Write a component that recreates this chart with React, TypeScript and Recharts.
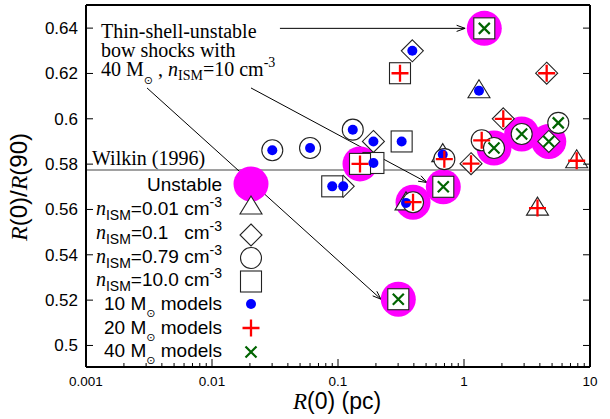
import React from 'react';
import { ScatterChart, Scatter, XAxis, YAxis, ReferenceLine } from 'recharts';

const SANS = '"Liberation Sans", Arial, sans-serif';
const SERIF = '"Liberation Serif", "Times New Roman", serif';

// R(0) in pc, R(0)/R(90), n_ISM in cm^-3, thin-shell unstable flag
const m10R0 = [0.0301, 0.060, 0.131, 0.191, 0.32, 0.191, 0.090, 0.110, 0.678, 1.315, 0.389, 0.3465];
const m10Ratio = [0.5861, 0.5871, 0.5952, 0.59, 0.59, 0.5805, 0.5702, 0.5702, 0.5842, 0.6124, 0.63, 0.5629];
const m10Nism = [0.79, 0.79, 0.79, 0.1, 10, 10, 10, 0.1, 0.01, 0.01, 0.1, 0.01];
const m10Unstable = [0, 0, 0, 0, 0, 0, 0, 0, 0, 0, 0, 0];

const m20R0 = [0.1495, 0.3105, 0.394, 0.698, 1.137, 1.382, 2.05, 4.53, 3.83, 7.84];
const m20Ratio = [0.5801, 0.6201, 0.5632, 0.5822, 0.5802, 0.5905, 0.6, 0.6201, 0.5606, 0.5815];
const m20Nism = [10, 10, 0.79, 0.79, 0.1, 0.79, 0.1, 0.1, 0.01, 0.01];
const m20Unstable = [1, 0, 1, 0, 0, 0, 0, 0, 0, 0];

const m40R0 = [1.449, 0.685, 0.301, 1.73, 2.87, 4.71, 5.6];
const m40Ratio = [0.6399, 0.57, 0.5204, 0.5871, 0.5933, 0.59, 0.5982];
const m40Nism = [10, 10, 10, 0.79, 0.79, 0.1, 0.79];
const m40Unstable = [1, 1, 1, 1, 1, 1, 0];

const wilkinRatio = 0.5774;

// annotation arrows (start -> tip), in data coordinates
const arrowFromR0 = [0.0346, 0.00305, 0.0204];
const arrowFromRatio = [0.6399, 0.6136, 0.6136];
const arrowToR0 = [1.02, 0.2195, 0.5085];
const arrowToRatio = [0.6399, 0.5204, 0.5719];

const xMajorTicks = [0.001, 0.01, 0.1, 1, 10];
const xTicks = [
  0.001, 0.002, 0.003, 0.004, 0.005, 0.006, 0.007, 0.008, 0.009,
  0.01, 0.02, 0.03, 0.04, 0.05, 0.06, 0.07, 0.08, 0.09,
  0.1, 0.2, 0.3, 0.4, 0.5, 0.6, 0.7, 0.8, 0.9,
  1, 2, 3, 4, 5, 6, 7, 8, 9, 10,
];
const yTicks = [0.5, 0.52, 0.54, 0.56, 0.58, 0.6, 0.62, 0.64];

const build = (r0: number[], ratio: number[], nism: number[], unstable: number[]) =>
  r0
    .map((x, i) => ({ x, y: ratio[i], n: nism[i], u: unstable[i] }))
    .sort((a, b) => a.n - b.n);

const m10 = build(m10R0, m10Ratio, m10Nism, m10Unstable);
const m20 = build(m20R0, m20Ratio, m20Nism, m20Unstable);
const m40 = build(m40R0, m40Ratio, m40Nism, m40Unstable);
const unstable = [...m10, ...m20, ...m40].filter((d) => d.u);
const arrows = arrowFromR0.map((x, i) => [
  { x, y: arrowFromRatio[i] },
  { x: arrowToR0[i], y: arrowToRatio[i] },
]);

const isMajor = (v: number) => xMajorTicks.some((m) => Math.abs(v / m - 1) < 1e-6);

const BottomTick = ({ x, y, payload }: any) => (
  <g>
    <line x1={x} y1={y} x2={x} y2={y - (isMajor(payload.value) ? 8 : 4)} stroke="#000" />
    {isMajor(payload.value) && (
      <text x={x} y={y + 19} textAnchor="middle" fontSize={13.5} fontFamily={SANS} fill="#000">
        {String(payload.value)}
      </text>
    )}
  </g>
);

const TopTick = ({ x, y, payload }: any) => (
  <line x1={x} y1={y} x2={x} y2={y + (isMajor(payload.value) ? 8 : 4)} stroke="#000" />
);

const LeftTick = ({ x, y, payload }: any) => (
  <g>
    <line x1={x} y1={y} x2={x + 7} y2={y} stroke="#000" />
    <text x={x - 8} y={y} dy="0.35em" textAnchor="end" fontSize={17} fontFamily={SANS} fill="#000">
      {String(payload.value)}
    </text>
  </g>
);

const RightTick = ({ x, y }: any) => <line x1={x} y1={y} x2={x - 7} y2={y} stroke="#000" />;

const outline = { fill: '#fff', stroke: '#222', strokeWidth: 1.1 };

const Outline = ({ cx, cy, n }: any) => {
  if (n < 0.05)
    return <polygon points={`${cx},${cy - 11} ${cx - 11},${cy + 7} ${cx + 11},${cy + 7}`} {...outline} />;
  if (n < 0.5)
    return <polygon points={`${cx},${cy - 11} ${cx + 11},${cy} ${cx},${cy + 11} ${cx - 11},${cy}`} {...outline} />;
  if (n < 5) return <circle cx={cx} cy={cy} r={10.5} {...outline} />;
  return <rect x={cx - 10.5} y={cy - 10.5} width={21} height={21} {...outline} />;
};

const Dot = ({ cx, cy }: any) => <circle cx={cx} cy={cy} r={5} fill="#0000ff" />;
const Plus = ({ cx, cy }: any) => (
  <path d={`M${cx - 8.5},${cy}H${cx + 8.5}M${cx},${cy - 8.5}V${cy + 8.5}`} stroke="#ff0000" strokeWidth={2.3} />
);
const Cross = ({ cx, cy }: any) => (
  <path
    d={`M${cx - 5.5},${cy - 5.5}L${cx + 5.5},${cy + 5.5}M${cx + 5.5},${cy - 5.5}L${cx - 5.5},${cy + 5.5}`}
    stroke="#006400"
    strokeWidth={2.2}
  />
);
const Halo = ({ cx, cy }: any) => <circle cx={cx} cy={cy} r={17.5} fill="#ff00ff" />;

const Arrow = ({ x1, y1, x2, y2 }: any) => {
  const a = Math.atan2(y2 - y1, x2 - x1);
  const L = 9;
  const w = 0.35;
  const p1 = `${x2 - L * Math.cos(a - w)},${y2 - L * Math.sin(a - w)}`;
  const p2 = `${x2 - L * Math.cos(a + w)},${y2 - L * Math.sin(a + w)}`;
  return (
    <g stroke="#000" strokeWidth={1} fill="none">
      <line x1={x1} y1={y1} x2={x2} y2={y2} />
      <path d={`M${p1}L${x2},${y2}L${p2}`} />
    </g>
  );
};

const NRow = ({ y, val }: { y: number; val: string }) => (
  <text x={222} y={y} textAnchor="end" style={{ whiteSpace: 'pre' }}>
    <tspan fontFamily={SERIF} fontStyle="italic" fontSize={20}>n</tspan>
    <tspan fontSize={14} dy={5}>ISM</tspan>
    <tspan dy={-5}>{`=${val}cm`}</tspan>
    <tspan fontSize={14} dy={-8}>-3</tspan>
  </text>
);

const MRow = ({ y, mass }: { y: number; mass: string }) => (
  <text x={222} y={y} textAnchor="end" style={{ whiteSpace: 'pre' }}>
    <tspan>{`${mass} M`}</tspan>
    <tspan fontFamily="DejaVu Sans" fontSize={11} dy={7}>⊙</tspan>
    <tspan dy={-7}> models</tspan>
  </text>
);

const Overlay = () => (
  <svg width={610} height={419} style={{ position: 'absolute', left: 0, top: 0, pointerEvents: 'none' }}>
    {/* annotation */}
    <g fontFamily={SERIF} fontSize={20} fill="#000">
      <text x={101} y={37.5}>Thin-shell-unstable</text>
      <text x={101} y={56.5}>bow shocks with</text>
      <text x={101} y={75.5} style={{ whiteSpace: 'pre' }}>
        <tspan>40 M</tspan>
        <tspan fontFamily="DejaVu Sans" fontSize={11} dy={8}>⊙</tspan>
        <tspan dy={-8}> , </tspan>
        <tspan fontStyle="italic">n</tspan>
        <tspan fontSize={14} dy={4}>ISM</tspan>
        <tspan dy={-4}>=10 cm</tspan>
        <tspan fontSize={14} dy={-9}>-3</tspan>
      </text>
      <text x={92} y={165}>Wilkin (1996)</text>
    </g>
    {/* legend */}
    <g fontFamily={SANS} fontSize={19} fill="#000">
      <text x={222} y={191} textAnchor="end">Unstable</text>
      <NRow y={215} val="0.01 " />
      <NRow y={239} val="0.1   " />
      <NRow y={262.5} val="0.79 " />
      <NRow y={286} val="10.0 " />
      <MRow y={309.5} mass="10" />
      <MRow y={333.5} mass="20" />
      <MRow y={357} mass="40" />
    </g>
    <Halo cx={251} cy={184} />
    <Outline cx={251} cy={207} n={0.01} />
    <Outline cx={251} cy={235} n={0.1} />
    <Outline cx={251} cy={258} n={0.79} />
    <Outline cx={251} cy={281.5} n={10} />
    <Dot cx={251} cy={304} />
    <Plus cx={251} cy={328} />
    <Cross cx={251} cy={352} />
    {/* axis titles */}
    <text x={337} y={409} textAnchor="middle" fontFamily={SANS} fontSize={23} fill="#000">
      <tspan fontFamily={SERIF} fontStyle="italic">R</tspan>
      <tspan>(0) (pc)</tspan>
    </text>
    <text transform="translate(27,187) rotate(-90)" textAnchor="middle" fontFamily={SANS} fontSize={24} fill="#000">
      <tspan fontFamily={SERIF} fontStyle="italic">R</tspan>
      <tspan>(0)/</tspan>
      <tspan fontFamily={SERIF} fontStyle="italic">R</tspan>
      <tspan>(90)</tspan>
    </text>
  </svg>
);

const axisLine = { stroke: '#000', strokeWidth: 2 };

export default function App() {
  return (
    <div style={{ position: 'absolute', left: 0, top: 0, width: 610, height: 419, background: '#fff' }}>
      <ScatterChart width={610} height={419} margin={{ top: 0, right: 0, bottom: 0, left: 0 }}>
        <XAxis
          dataKey="x"
          type="number"
          scale="log"
          domain={[0.001, 10]}
          allowDataOverflow
          ticks={xTicks}
          interval={0}
          height={52}
          tickSize={0}
          tickMargin={0}
          tickLine={false}
          axisLine={axisLine}
          tick={<BottomTick />}
        />
        <XAxis
          xAxisId="top"
          orientation="top"
          type="number"
          scale="log"
          domain={[0.001, 10]}
          allowDataOverflow
          ticks={xTicks}
          interval={0}
          height={5}
          tickSize={0}
          tickMargin={0}
          tickLine={false}
          axisLine={axisLine}
          tick={<TopTick />}
        />
        <YAxis
          dataKey="y"
          type="number"
          domain={[0.4905, 0.6502]}
          allowDataOverflow
          ticks={yTicks}
          interval={0}
          width={86}
          tickSize={0}
          tickMargin={0}
          tickLine={false}
          axisLine={axisLine}
          tick={<LeftTick />}
        />
        <YAxis
          yAxisId="right"
          orientation="right"
          type="number"
          domain={[0.4905, 0.6502]}
          allowDataOverflow
          ticks={yTicks}
          interval={0}
          width={20}
          tickSize={0}
          tickMargin={0}
          tickLine={false}
          axisLine={axisLine}
          tick={<RightTick />}
        />
        <ReferenceLine y={wilkinRatio} stroke="#444" strokeWidth={1.2} />
        {arrows.map((seg, i) => (
          <ReferenceLine key={i} segment={seg} shape={(p: any) => <Arrow {...p} />} />
        ))}
        <Scatter data={unstable} isAnimationActive={false} shape={(p: any) => <Halo {...p} />} />
        <Scatter data={m10} isAnimationActive={false} shape={(p: any) => <Outline cx={p.cx} cy={p.cy} n={p.payload.n} />} />
        <Scatter data={m20} isAnimationActive={false} shape={(p: any) => <Outline cx={p.cx} cy={p.cy} n={p.payload.n} />} />
        <Scatter data={m40} isAnimationActive={false} shape={(p: any) => <Outline cx={p.cx} cy={p.cy} n={p.payload.n} />} />
        <Scatter data={m10} isAnimationActive={false} shape={(p: any) => <Dot {...p} />} />
        <Scatter data={m20} isAnimationActive={false} shape={(p: any) => <Plus {...p} />} />
        <Scatter data={m40} isAnimationActive={false} shape={(p: any) => <Cross {...p} />} />
      </ScatterChart>
      <Overlay />
    </div>
  );
}
